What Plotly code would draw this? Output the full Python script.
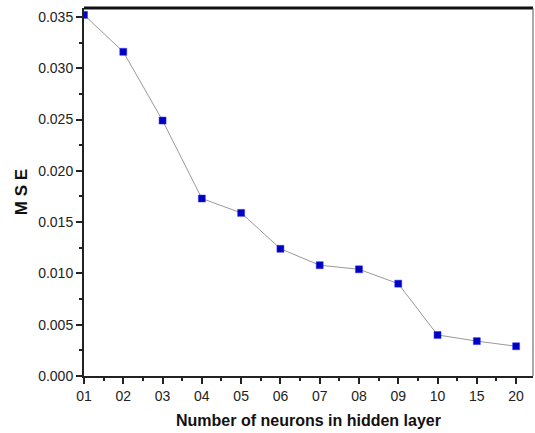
import plotly.graph_objects as go

# Hidden-layer sizes and the resulting mean squared error
neurons = ["01", "02", "03", "04", "05", "06", "07", "08", "09", "10", "15", "20"]
mse = [0.0352, 0.0316, 0.0249, 0.0173, 0.0159, 0.0124, 0.0108, 0.0104, 0.0090, 0.0040, 0.0034, 0.0029]

x_pos = list(range(len(neurons)))

fig = go.Figure()
fig.add_trace(go.Scatter(
    x=x_pos, y=mse,
    mode="lines+markers",
    line=dict(color="#999999", width=1),
    marker=dict(symbol="square", size=7, color="#0000c0",
                line=dict(color="#3030ff", width=0.5)),
    showlegend=False,
))

tick_font = dict(family="Liberation Sans, Arial, sans-serif", size=14, color="#222222")
xtitle_font = dict(family="Liberation Sans, Arial, sans-serif", size=16, color="#111111")
ytitle_font = dict(family="Liberation Sans, Arial, sans-serif", size=17, color="#111111")

fig.update_layout(
    width=535, height=433,
    margin=dict(l=84, r=2, t=8, b=57),
    paper_bgcolor="white", plot_bgcolor="white",
    xaxis=dict(
        range=[0, 11.43],
        tickmode="array", tickvals=x_pos, ticktext=neurons,
        ticks="outside", ticklen=6, tickwidth=1.5, tickcolor="#222",
        minor=dict(tickmode="array", tickvals=[i + 0.5 for i in x_pos],
                   ticks="outside", ticklen=3, tickwidth=1.5, tickcolor="#222"),
        showline=True, linecolor="#222", linewidth=2,
        mirror=False, showgrid=False, zeroline=False,
        tickfont=tick_font,
        title=dict(text="<b>Number of neurons in hidden layer</b>", font=xtitle_font, standoff=12),
    ),
    yaxis=dict(
        range=[0, 0.03587],
        tickmode="array",
        tickvals=[0, 0.005, 0.01, 0.015, 0.02, 0.025, 0.03, 0.035],
        ticktext=["0.000", "0.005", "0.010", "0.015", "0.020", "0.025", "0.030", "0.035"],
        ticks="outside", ticklen=6, tickwidth=1.5, tickcolor="#222",
        minor=dict(tickmode="array",
                   tickvals=[0.0025, 0.0075, 0.0125, 0.0175, 0.0225, 0.0275, 0.0325],
                   ticks="outside", ticklen=3, tickwidth=1.5, tickcolor="#222"),
        showline=True, linecolor="#222", linewidth=2,
        showgrid=False, zeroline=False,
        tickfont=tick_font,
        title=dict(text="<b>M S E</b>", font=ytitle_font, standoff=6),
    ),
)

# Frame lines on the top and right of the plotting area
fig.add_shape(type="line", xref="paper", yref="paper", x0=0, x1=1, y0=1, y1=1,
              line=dict(color="#111", width=3))
fig.add_shape(type="line", xref="paper", yref="paper", x0=1, x1=1, y0=0, y1=1,
              line=dict(color="#555", width=1))

fig.write_html("out.html")
